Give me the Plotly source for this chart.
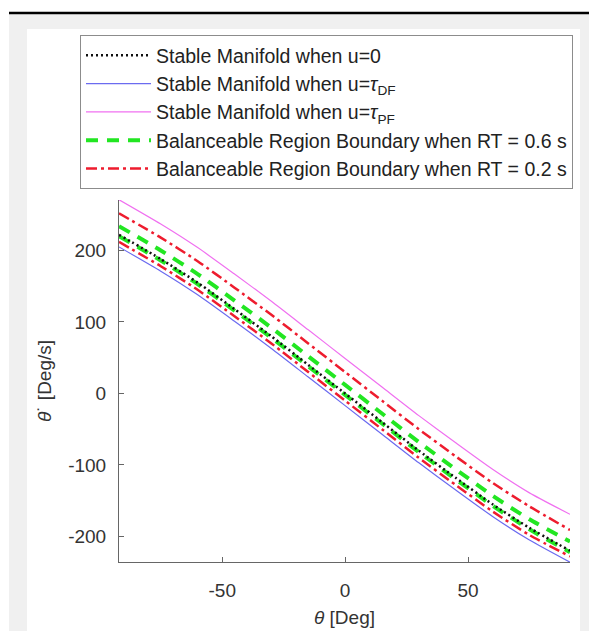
import plotly.graph_objects as go

# ---- data ----
theta = [-92, -75, -60, -45, -30, -15, 0, 15, 30, 45, 60, 75, 91.5]
manifold_u0 = [222, 188, 155, 118, 80, 40, 0, -40, -80, -118, -155, -188, -220]
manifold_tdf = [205, 171, 138, 101, 63, 23, -17, -57, -97, -135, -172, -205, -236]
manifold_tpf = [271, 237, 204, 167, 129, 89, 49, 9, -31, -69, -106, -139, -169]
rt06_upper = [234, 200, 167, 130, 92, 52, 12, -28, -68, -106, -143, -176, -207]
rt06_lower = [220, 186, 153, 116, 78, 38, -2, -42, -82, -120, -157, -190, -222]
rt02_upper = [252, 218, 185, 148, 110, 70, 30, -10, -50, -88, -125, -158, -191]
rt02_lower = [212, 178, 145, 108, 70, 30, -10, -50, -90, -128, -165, -198, -228]

x_ticks = [-50, 0, 50]
x_ticklabels = ["-50", "0", "50"]
y_ticks = [-200, -100, 0, 100, 200]
y_ticklabels = ["-200", "-100", "0", "100", "200"]

FONT = "Liberation Sans, Arial, sans-serif"
RED_DASH = "11px,4px,3px,4px"
GREEN_DASH = "12px,9px"

fig = go.Figure()

fig.add_trace(go.Scatter(x=theta, y=manifold_tdf, mode="lines", name="Stable Manifold when u=<i>τ</i><sub>DF</sub>",
                         line=dict(color="#6b6bf0", width=1.2, shape="spline", smoothing=0.6), legendgroup="b", legendrank=2))
fig.add_trace(go.Scatter(x=theta, y=manifold_tpf, mode="lines", name="Stable Manifold when u=<i>τ</i><sub>PF</sub>",
                         line=dict(color="#f070f0", width=1.2, shape="spline", smoothing=0.6), legendgroup="c", legendrank=3))
fig.add_trace(go.Scatter(x=theta, y=rt02_lower, mode="lines", showlegend=False,
                         line=dict(color="#ee1c2e", width=2.5, dash=RED_DASH, shape="spline", smoothing=0.6), legendgroup="e"))
fig.add_trace(go.Scatter(x=theta, y=rt02_upper, mode="lines", name="Balanceable Region Boundary when RT = 0.2 s",
                         line=dict(color="#ee1c2e", width=2.5, dash=RED_DASH, shape="spline", smoothing=0.6), legendgroup="e", legendrank=5))
fig.add_trace(go.Scatter(x=theta, y=rt06_lower, mode="lines", showlegend=False,
                         line=dict(color="#22e622", width=4, dash=GREEN_DASH, shape="spline", smoothing=0.6), legendgroup="d"))
fig.add_trace(go.Scatter(x=theta, y=rt06_upper, mode="lines", name="Balanceable Region Boundary when RT = 0.6 s",
                         line=dict(color="#22e622", width=4, dash=GREEN_DASH, shape="spline", smoothing=0.6), legendgroup="d", legendrank=4))
fig.add_trace(go.Scatter(x=theta, y=manifold_u0, mode="lines", name="Stable Manifold when u=0",
                         line=dict(color="#111111", width=2.5, dash="2px,3px", shape="spline", smoothing=0.6), legendgroup="a", legendrank=1))

def px_x(p):
    return (p - 119) / 451

def px_y(p):
    return (562 - p) / 362

shapes = [
    dict(type="rect", xref="paper", yref="paper", x0=px_x(9), x1=px_x(589), y0=px_y(631), y1=px_y(14),
         fillcolor="#f0f0f0", line=dict(width=0), layer="below"),
    dict(type="rect", xref="paper", yref="paper", x0=px_x(27), x1=px_x(580), y0=px_y(631), y1=px_y(29),
         fillcolor="#ffffff", line=dict(width=0), layer="below"),
    dict(type="line", xref="paper", yref="paper", x0=px_x(9), x1=px_x(589), y0=px_y(13), y1=px_y(13),
         line=dict(color="#000000", width=2.5), layer="below"),
]

fig.update_layout(
    width=589, height=631,
    margin=dict(l=119, r=19, t=200, b=69),
    paper_bgcolor="#ffffff", plot_bgcolor="rgba(0,0,0,0)",
    font=dict(family=FONT, size=19, color="#333333"),
    shapes=shapes,
    showlegend=True,
    legend=dict(x=px_x(80), y=px_y(35), xanchor="left", yanchor="top",
                bgcolor="#ffffff", bordercolor="#8c8c8c", borderwidth=1,
                font=dict(family=FONT, size=19.5, color="#222222"),
                itemwidth=65, traceorder="normal", tracegroupgap=5),
    xaxis=dict(range=[-92, 91.5], tickvals=x_ticks, ticktext=x_ticklabels, ticks="inside", ticklen=5,
               tickcolor="#666666", ticklabelstandoff=11,
               showline=True, linecolor="#666666", linewidth=1, showgrid=False, zeroline=False,
               tickfont=dict(size=19, color="#333333"),
               title=dict(text="<i>θ</i> [Deg]", standoff=10, font=dict(size=19, color="#333333")),
               automargin=False, fixedrange=True),
    yaxis=dict(range=[-235.7, 270.6], tickvals=y_ticks, ticktext=y_ticklabels, ticks="inside", ticklen=5,
               tickcolor="#666666", ticklabelstandoff=8,
               showline=True, linecolor="#666666", linewidth=1, showgrid=False, zeroline=False,
               tickfont=dict(size=19, color="#333333"),
               title=dict(text="<i>θ</i>˙ [Deg/s]", standoff=11, font=dict(size=19, color="#333333")),
               automargin=False, fixedrange=True),
)

fig.write_html("out.html")
